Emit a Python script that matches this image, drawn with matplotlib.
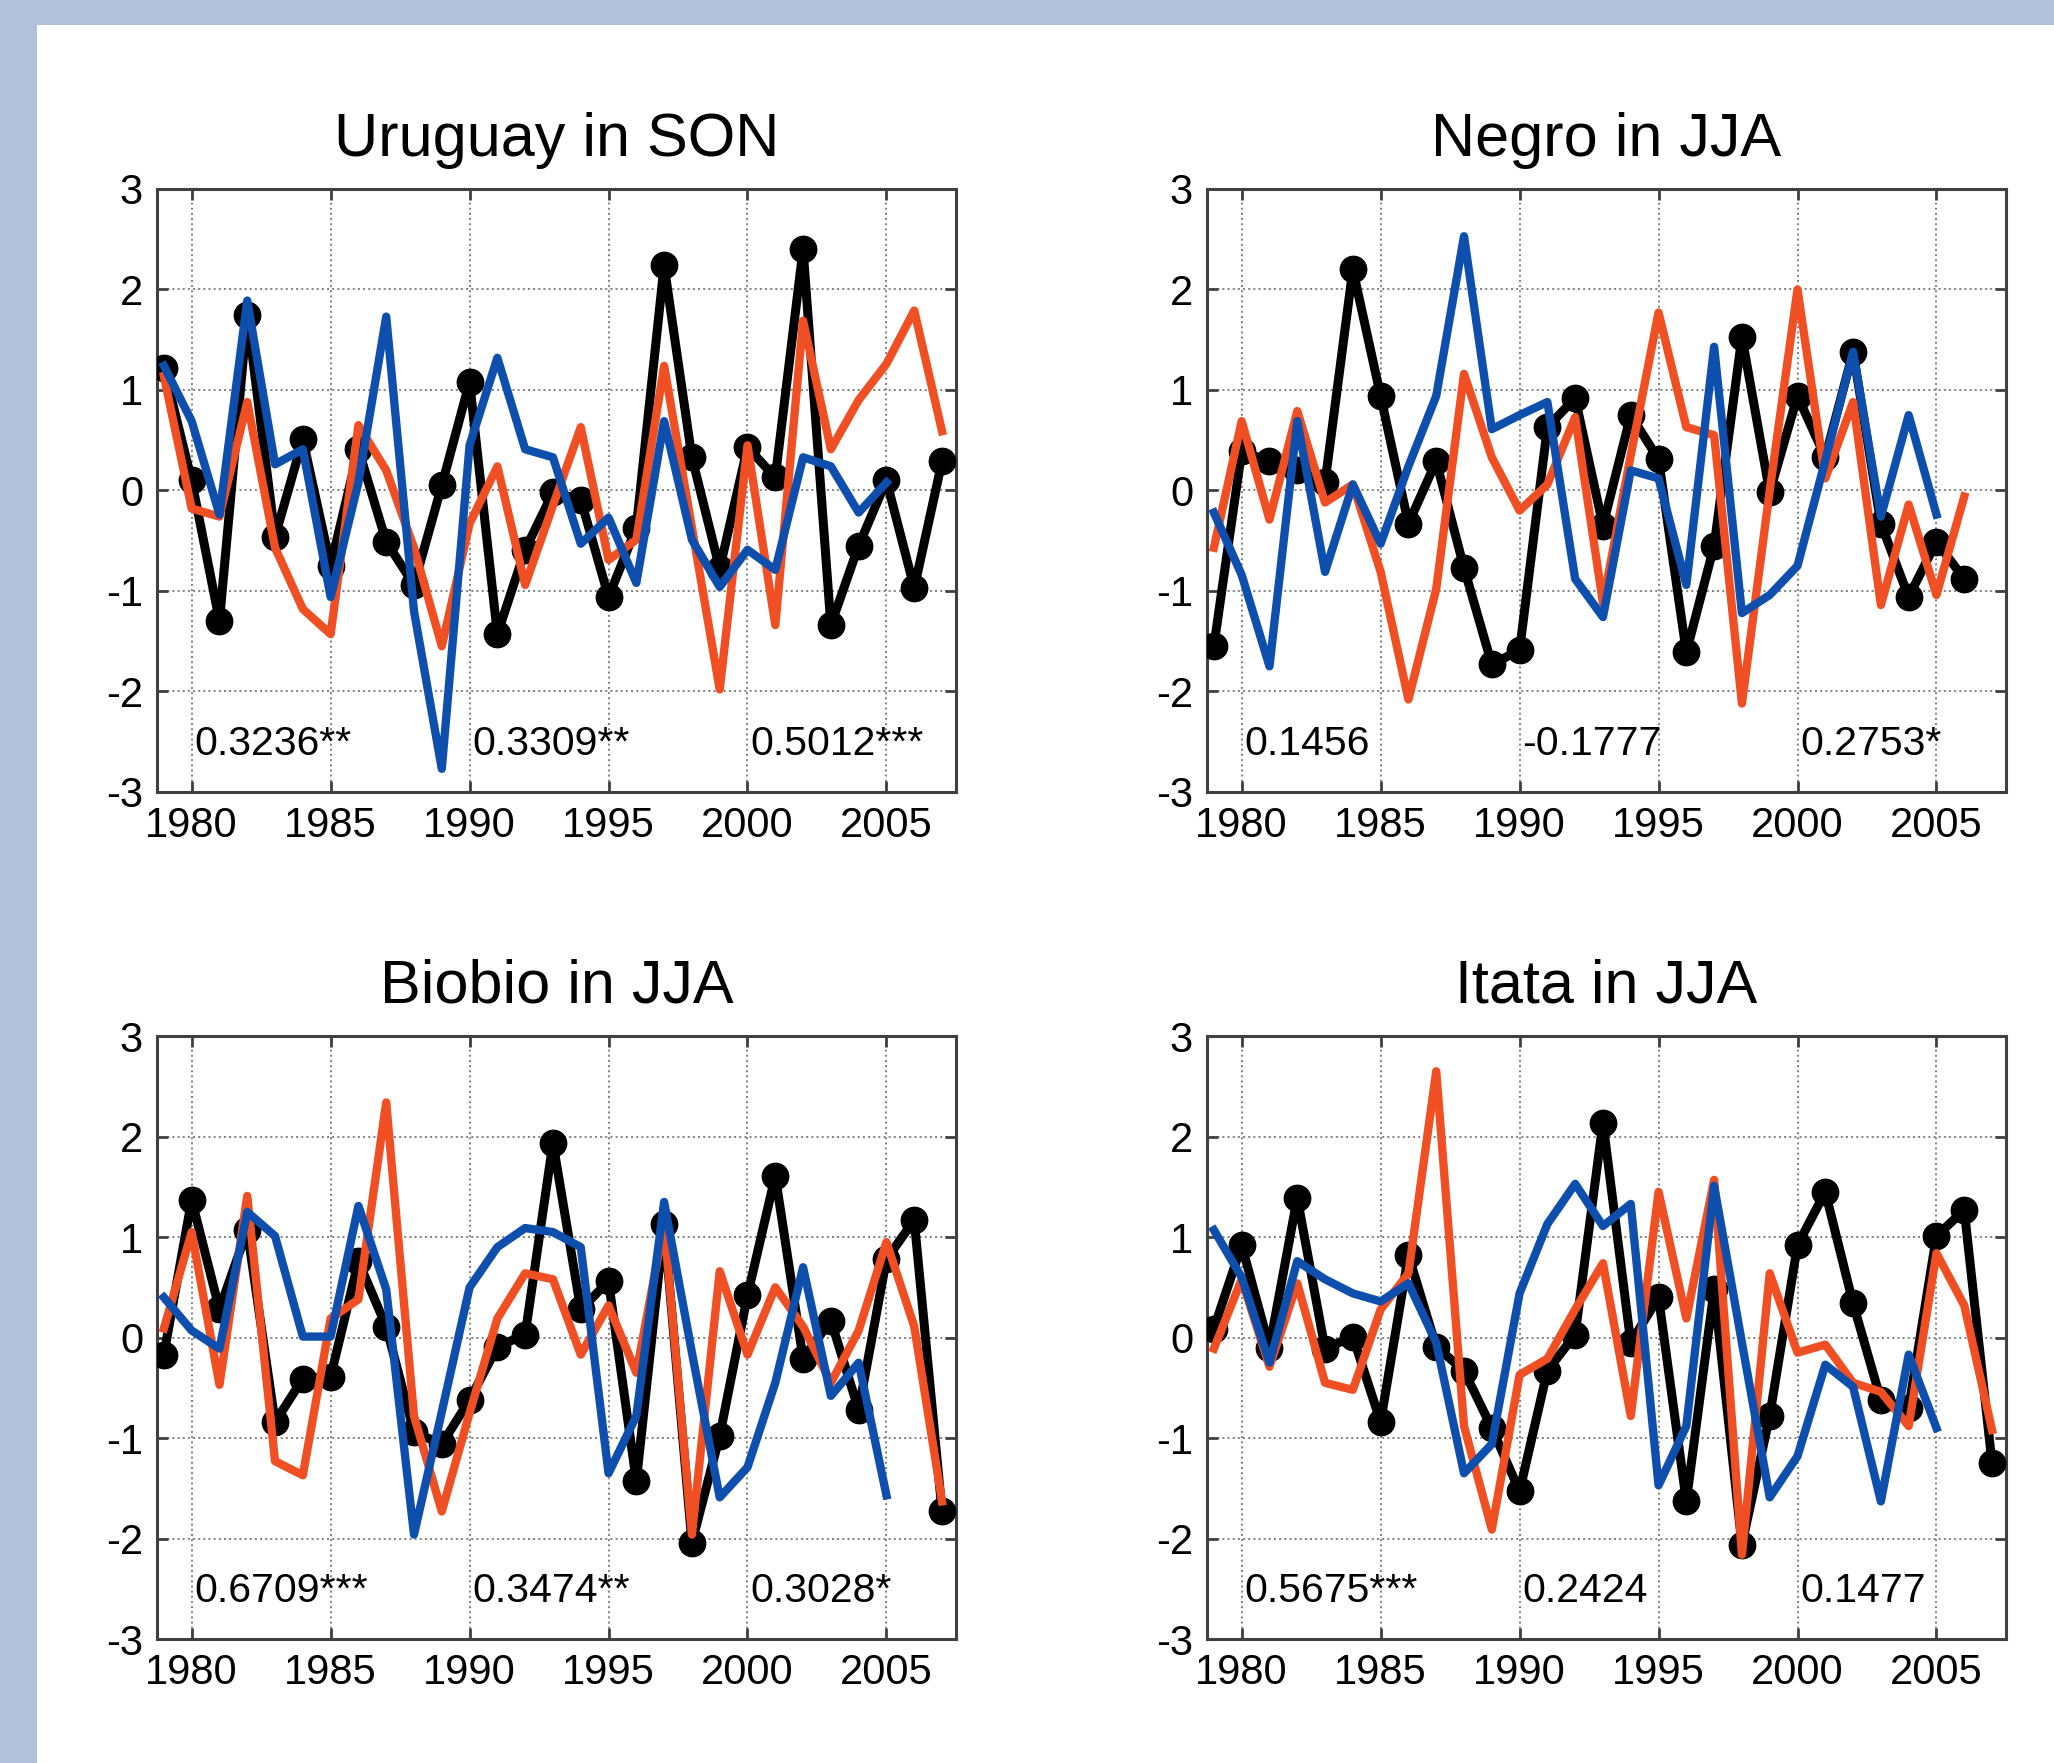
import matplotlib
matplotlib.use("Agg")
import matplotlib.pyplot as plt
from matplotlib.patches import Rectangle

plt.rcParams['font.family'] = ['Liberation Sans', 'DejaVu Sans']
plt.rcParams['axes.unicode_minus'] = False

years = list(range(1979, 2008))

titles = ['Uruguay in SON', 'Negro in JJA', 'Biobio in JJA', 'Itata in JJA']

# observed (black, with dots)
obs = [
    [1.22, 0.10, -1.30, 1.75, -0.46, 0.51, -0.75, 0.41, -0.51, -0.94, 0.05, 1.08, -1.43, -0.59, -0.02,
     -0.09, -1.06, -0.37, 2.24, 0.33, -0.78, 0.43, 0.13, 2.40, -1.34, -0.55, 0.10, -0.97, 0.29],
    [-1.55, 0.39, 0.29, 0.20, 0.08, 2.20, 0.94, -0.33, 0.29, -0.77, -1.73, -1.59, 0.63, 0.92, -0.35,
     0.75, 0.31, -1.61, -0.55, 1.53, -0.02, 0.94, 0.33, 1.38, -0.33, -1.06, -0.51, -0.88],
    [-0.17, 1.37, 0.28, 1.07, -0.84, -0.41, -0.39, 0.76, 0.11, -0.94, -1.06, -0.62, -0.09, 0.03, 1.94,
     0.28, 0.56, -1.43, 1.13, -2.04, -0.98, 0.42, 1.61, -0.21, 0.17, -0.72, 0.78, 1.17, -1.73],
    [0.09, 0.92, -0.10, 1.39, -0.11, 0.01, -0.84, 0.82, -0.09, -0.33, -0.90, -1.53, -0.33, 0.03, 2.14,
     -0.05, 0.40, -1.63, 0.48, -2.06, -0.78, 0.92, 1.45, 0.34, -0.62, -0.70, 1.01, 1.27, -1.25],
]

# red series
red = [
    [1.14, -0.18, -0.26, 0.88, -0.57, -1.18, -1.43, 0.65, 0.20, -0.57, -1.55, -0.33, 0.24, -0.94, -0.15,
     0.63, -0.69, -0.49, 1.24, -0.37, -1.98, 0.45, -1.34, 1.69, 0.41, 0.90, 1.26, 1.79, 0.59],
    [-0.57, 0.69, -0.29, 0.79, -0.12, 0.06, -0.81, -2.08, -0.98, 1.16, 0.33, -0.20, 0.06, 0.73, -1.12,
     0.35, 1.77, 0.63, 0.55, -2.12, 0.00, 2.00, 0.12, 0.88, -1.14, -0.14, -1.04, -0.06],
    [0.09, 1.05, -0.47, 1.41, -1.23, -1.37, 0.19, 0.38, 2.34, -0.78, -1.73, -0.75, 0.19, 0.64, 0.58,
     -0.17, 0.32, -0.35, 1.13, -1.96, 0.66, -0.17, 0.50, 0.11, -0.45, 0.07, 0.95, 0.11, -1.63],
    [-0.11, 0.58, -0.29, 0.54, -0.45, -0.52, 0.28, 0.64, 2.65, -0.88, -1.91, -0.37, -0.21, 0.28, 0.74,
     -0.78, 1.45, 0.19, 1.57, -2.16, 0.64, -0.15, -0.07, -0.45, -0.54, -0.88, 0.84, 0.32, -0.92],
]

# blue series (1979-2005)
blue = [
    [1.24, 0.69, -0.24, 1.89, 0.26, 0.41, -1.06, 0.08, 1.73, -1.20, -2.77, 0.45, 1.32, 0.41, 0.33,
     -0.53, -0.27, -0.92, 0.69, -0.49, -0.96, -0.59, -0.79, 0.33, 0.24, -0.22, 0.08],
    [-0.22, -0.84, -1.75, 0.69, -0.81, 0.06, -0.53, 0.24, 0.94, 2.53, 0.61, 0.75, 0.88, -0.88, -1.26,
     0.20, 0.12, -0.94, 1.43, -1.22, -1.04, -0.75, 0.30, 1.38, -0.26, 0.75, -0.24],
    [0.40, 0.07, -0.11, 1.25, 1.01, 0.01, 0.01, 1.31, 0.48, -1.96, -0.74, 0.50, 0.90, 1.09, 1.05,
     0.90, -1.35, -0.78, 1.35, -0.15, -1.59, -1.29, -0.45, 0.70, -0.58, -0.25, -1.57],
    [1.07, 0.60, -0.25, 0.76, 0.58, 0.44, 0.36, 0.54, -0.05, -1.35, -1.06, 0.44, 1.13, 1.53, 1.11,
     1.33, -1.47, -0.88, 1.51, -0.05, -1.59, -1.18, -0.27, -0.49, -1.63, -0.17, -0.90],
]

corr_labels = [
    ['0.3236**', '0.3309**', '0.5012***'],
    ['0.1456', '-0.1777', '0.2753*'],
    ['0.6709***', '0.3474**', '0.3028*'],
    ['0.5675***', '0.2424', '0.1477'],
]
label_years = [1980.1, 1990.1, 2000.1]

RED = '#F04E23'
BLUE = '#0E4FAD'

fig = plt.figure(figsize=(20.54, 17.63), dpi=100)
fig.patch.set_facecolor('#B1C1D9')
# white page on the blue backdrop
page = Rectangle((37 / 2054, 0), 1, 1 - 25 / 1763, transform=fig.transFigure,
                 facecolor='white', edgecolor='none', zorder=-10)
fig.add_artist(page)

positions = [
    [0.0764, 0.5508, 0.389, 0.342],
    [0.5876, 0.5508, 0.389, 0.342],
    [0.0764, 0.0703, 0.389, 0.342],
    [0.5876, 0.0703, 0.389, 0.342],
]

for i in range(4):
    ax = fig.add_axes(positions[i])
    n_obs = len(obs[i])
    ax.plot(years[:n_obs], obs[i], color='black', lw=6.5, marker='o', ms=19, zorder=3)
    ax.plot(years[:len(red[i])], red[i], color=RED, lw=6, zorder=4)
    ax.plot(years[:len(blue[i])], blue[i], color=BLUE, lw=6, zorder=5)

    ax.set_xlim(1978.75, 2007.5)
    ax.set_ylim(-3, 3)
    ax.set_xticks(range(1980, 2006, 5))
    ax.set_yticks(range(-3, 4))
    ax.grid(True, color='0.5', linestyle=':', linewidth=1.4)
    ax.tick_params(direction='in', top=True, right=True, length=8, width=2,
                   color='#404040', labelsize=30, pad=10)
    for s in ax.spines.values():
        s.set_color('#404040')
        s.set_linewidth(2.2)
    ax.set_title(titles[i], fontsize=44, pad=24)

    for lx, txt in zip(label_years, corr_labels[i]):
        ax.text(lx, -2.52, txt, fontsize=29.5, ha='left', va='center', zorder=6)

fig.savefig('out.png', dpi=100, facecolor=fig.get_facecolor())
